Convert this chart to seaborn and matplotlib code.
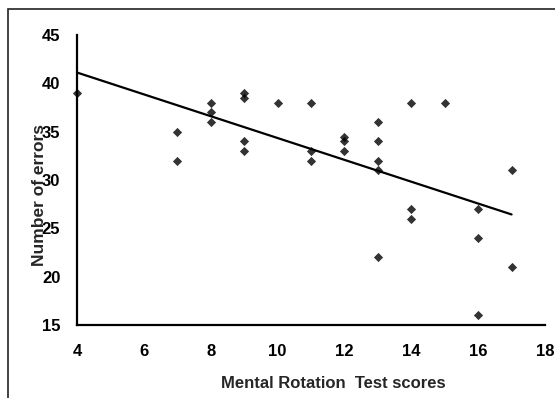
import numpy as np
import pandas as pd
import matplotlib
matplotlib.use('Agg')
import matplotlib.pyplot as plt
import seaborn as sns
from matplotlib.patches import Rectangle

# data
mrt_scores = [4, 7, 7, 8, 8, 8, 9, 9, 9, 9, 10, 11, 11, 11, 12, 12, 12,
              13, 13, 13, 13, 13, 14, 14, 14, 15, 16, 16, 16, 17, 17]
errors = [39, 35, 32, 38, 37, 36, 39, 38.5, 34, 33, 38, 38, 33, 32, 34.5, 34, 33,
          36, 34, 32, 31, 22, 38, 27, 26, 38, 27, 24, 16, 31, 21]
x_ticks = [4, 6, 8, 10, 12, 14, 16, 18]
y_ticks = [15, 20, 25, 30, 35, 40, 45]

df = pd.DataFrame({'mrt': mrt_scores, 'errors': errors})

sns.set_style('white')
plt.rcParams['font.family'] = ['Liberation Sans', 'DejaVu Sans']
plt.rcParams['font.weight'] = 'bold'

fig = plt.figure(figsize=(5.55, 3.98), dpi=100)
# chart-area frame (runs off the right/bottom edge like the source)
fig.patches.append(Rectangle((8 / 555, -0.05), 1.2, 1 - 9 / 398 + 0.05,
                             transform=fig.transFigure, fill=False,
                             edgecolor='#222222', linewidth=1.2))

ax = fig.add_axes([77 / 555, 1 - 325 / 398, 468 / 555, 290 / 398])

sns.regplot(data=df, x='mrt', y='errors', ax=ax, ci=None, marker='D',
            scatter_kws={'s': 22, 'color': 'black', 'clip_on': False, 'linewidths': 0},
            line_kws={'color': 'black', 'linewidth': 1.6})

ax.set_xlim(4, 18)
ax.set_ylim(15, 45)
ax.set_xticks(x_ticks)
ax.set_yticks(y_ticks)
sns.despine(ax=ax)
for s in ['left', 'bottom']:
    ax.spines[s].set_color('black')
    ax.spines[s].set_linewidth(1.6)

ax.tick_params(axis='both', direction='out', width=1.6, color='black',
               labelsize=12, labelcolor='black')
ax.tick_params(axis='x', length=4, pad=10)
ax.tick_params(axis='y', length=5, pad=7)
for lab in ax.get_xticklabels() + ax.get_yticklabels():
    lab.set_fontweight('bold')

ax.set_xlabel('Mental Rotation  Test scores', fontsize=12, fontweight='bold')
ax.set_ylabel('Number of errors', fontsize=12.5, fontweight='bold')
ax.xaxis.set_label_coords(0.547, -0.176)
ax.yaxis.set_label_coords(-0.064, 0.448)

fig.savefig('out.png', dpi=100, facecolor='white')
